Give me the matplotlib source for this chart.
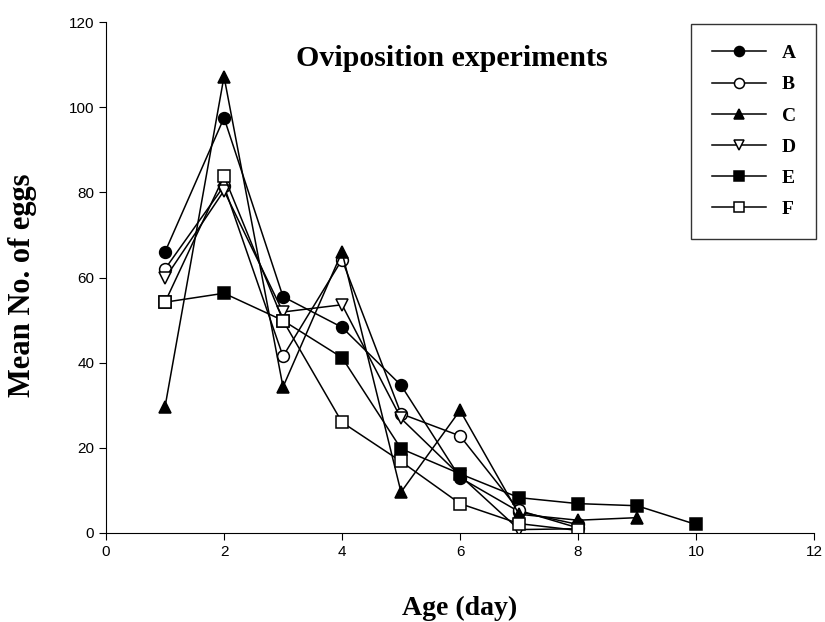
import matplotlib
matplotlib.use("Agg")
import matplotlib.pyplot as plt

# mean number of eggs by age (day) for each group
days_A = [1, 2, 3, 4, 5, 6, 7, 8]
eggs_A = [66, 97.5, 55.5, 48.3, 34.7, 13, 5, 2]
days_B = [1, 2, 3, 4, 5, 6, 7, 8]
eggs_B = [62, 81.5, 41.5, 64.2, 28, 22.8, 5.3, 1.2]
days_C = [1, 2, 3, 4, 5, 6, 7, 8, 9]
eggs_C = [29.6, 107.2, 34.3, 66, 9.6, 28.8, 4.4, 3, 3.6]
days_D = [1, 2, 3, 4, 5, 6, 7, 8]
eggs_D = [59.8, 80.4, 51.9, 53.6, 26.9, 13.5, 0.8, 1]
days_E = [1, 2, 3, 4, 5, 6, 7, 8, 9, 10]
eggs_E = [54.2, 56.3, 49.9, 41.2, 19.8, 13.9, 8.3, 6.9, 6.4, 2]
days_F = [1, 2, 3, 4, 5, 6, 7, 8]
eggs_F = [54.2, 83.8, 49.9, 26, 16.8, 6.9, 2.2, 0.6]

series = [
    ("A", days_A, eggs_A, "o", "black"),
    ("B", days_B, eggs_B, "o", "white"),
    ("C", days_C, eggs_C, "^", "black"),
    ("D", days_D, eggs_D, "v", "white"),
    ("E", days_E, eggs_E, "s", "black"),
    ("F", days_F, eggs_F, "s", "white"),
]

fig = plt.figure(figsize=(8.25, 6.22), dpi=100)
ax = fig.add_axes([0.1285, 0.1431, 0.8582, 0.8215])

for name, x, y, m, fc in series:
    ax.plot(x, y, color="black", lw=1.1, marker=m, markersize=8.5,
            markerfacecolor=fc, markeredgecolor="black", markeredgewidth=1.1,
            label=name)

ax.set_xlim(0, 12)
ax.set_ylim(0, 120)
ax.set_xticks(range(0, 13, 2))
ax.set_yticks(range(0, 121, 20))
for s in ["top", "right"]:
    ax.spines[s].set_visible(False)
ax.tick_params(direction="out", length=5, labelsize=11)
for lab in ax.get_xticklabels() + ax.get_yticklabels():
    lab.set_family("Liberation Sans")

ax.set_xlabel("Age (day)", family="Liberation Serif", fontweight="bold",
              fontsize=20, labelpad=27)
ax.set_ylabel("Mean No. of eggs", family="Liberation Serif", fontweight="bold",
              fontsize=22)
ax.yaxis.set_label_coords(-0.097, 0.485)
ax.text(0.489, 0.928, "Oviposition experiments", transform=ax.transAxes,
        ha="center", va="center", family="Liberation Serif",
        fontweight="bold", fontsize=21.5)

leg = ax.legend(loc="upper right", bbox_to_anchor=(1.003, 0.996),
                borderaxespad=0,
                prop={"family": "Liberation Serif", "weight": "bold", "size": 14},
                frameon=True, fancybox=False, edgecolor="black",
                handlelength=2.8, labelspacing=0.7, borderpad=1.05,
                markerscale=0.85)
leg.get_frame().set_linewidth(1.0)

fig.savefig("out.png", dpi=100)
